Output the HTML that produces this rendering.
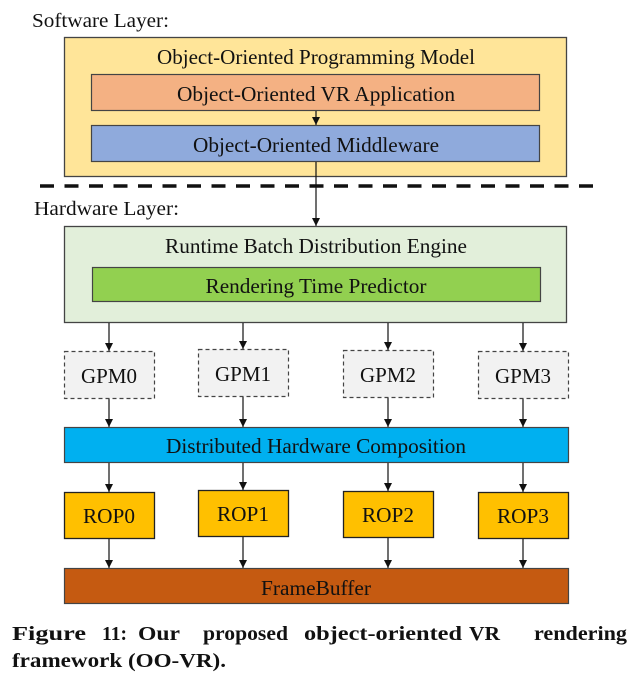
<!DOCTYPE html>
<html><head><meta charset="utf-8"><style>
html,body{margin:0;padding:0;background:#fff;}
svg{display:block;}
text{font-family:"Liberation Serif",serif;fill:#111;}
</style></head><body>
<svg width="633" height="685" viewBox="0 0 633 685" xmlns="http://www.w3.org/2000/svg">
<defs><marker id="a" markerWidth="8" markerHeight="8" refX="8" refY="4" orient="auto" markerUnits="userSpaceOnUse"><path d="M0,0 L8,4 L0,8 z" fill="#111"/></marker></defs>
<text x="32" y="27" font-size="20" textLength="137" lengthAdjust="spacingAndGlyphs">Software Layer:</text>
<rect x="64.5" y="37.5" width="502" height="139" fill="#ffe599" stroke="#444" stroke-width="1.3"/>
<text x="316" y="64" font-size="21" text-anchor="middle" textLength="318" lengthAdjust="spacingAndGlyphs">Object-Oriented Programming Model</text>
<rect x="91.5" y="74.5" width="448" height="36" fill="#f4b183" stroke="#444" stroke-width="1.2"/>
<text x="316" y="101" font-size="21" text-anchor="middle" textLength="278" lengthAdjust="spacingAndGlyphs">Object-Oriented VR Application</text>
<rect x="91.5" y="125.5" width="448" height="36" fill="#8faadc" stroke="#444" stroke-width="1.2"/>
<text x="316" y="152" font-size="21" text-anchor="middle" textLength="246" lengthAdjust="spacingAndGlyphs">Object-Oriented Middleware</text>
<line x1="316" y1="111" x2="316" y2="125" stroke="#111" stroke-width="1.2" marker-end="url(#a)"/>
<line x1="40" y1="186" x2="594" y2="186" stroke="#111" stroke-width="3.5" stroke-dasharray="14 10.5"/>
<line x1="316" y1="162" x2="316" y2="226" stroke="#111" stroke-width="1.2" marker-end="url(#a)"/>
<text x="34" y="215" font-size="20" textLength="145" lengthAdjust="spacingAndGlyphs">Hardware Layer:</text>
<rect x="64.5" y="226.5" width="502" height="96" fill="#e2efda" stroke="#444" stroke-width="1.3"/>
<text x="316" y="253" font-size="21" text-anchor="middle" textLength="302" lengthAdjust="spacingAndGlyphs">Runtime Batch Distribution Engine</text>
<rect x="92.5" y="267.5" width="448" height="34" fill="#92d050" stroke="#444" stroke-width="1.2"/>
<text x="316" y="293" font-size="21" text-anchor="middle" textLength="221" lengthAdjust="spacingAndGlyphs">Rendering Time Predictor</text>
<g stroke="#111" stroke-width="1.2" marker-end="url(#a)">
<line x1="109" y1="323" x2="109" y2="351"/><line x1="243" y1="323" x2="243" y2="349"/><line x1="388" y1="323" x2="388" y2="350"/><line x1="523" y1="323" x2="523" y2="351"/>
<line x1="109" y1="398" x2="109" y2="427"/><line x1="243" y1="396" x2="243" y2="427"/><line x1="388" y1="397" x2="388" y2="427"/><line x1="523" y1="398" x2="523" y2="427"/>
<line x1="109" y1="463" x2="109" y2="492"/><line x1="243" y1="463" x2="243" y2="490"/><line x1="388" y1="463" x2="388" y2="491"/><line x1="523" y1="463" x2="523" y2="492"/>
<line x1="109" y1="538" x2="109" y2="568"/><line x1="243" y1="536" x2="243" y2="568"/><line x1="388" y1="537" x2="388" y2="568"/><line x1="523" y1="538" x2="523" y2="568"/>
</g>
<g fill="#f2f2f2" stroke="#444" stroke-width="1.2" stroke-dasharray="4 3">
<rect x="64.5" y="351.5" width="90" height="47"/><rect x="198.5" y="349.5" width="90" height="47"/><rect x="343.5" y="350.5" width="90" height="47"/><rect x="478.5" y="351.5" width="90" height="47"/>
</g>
<g font-size="21" text-anchor="middle">
<text x="109" y="383" textLength="56" lengthAdjust="spacingAndGlyphs">GPM0</text><text x="243" y="381" textLength="56" lengthAdjust="spacingAndGlyphs">GPM1</text><text x="388" y="382" textLength="56" lengthAdjust="spacingAndGlyphs">GPM2</text><text x="523" y="383" textLength="56" lengthAdjust="spacingAndGlyphs">GPM3</text>
</g>
<rect x="64.5" y="427.5" width="504" height="35" fill="#00b0f0" stroke="#444" stroke-width="1.2"/>
<text x="316" y="453" font-size="21" text-anchor="middle" textLength="300" lengthAdjust="spacingAndGlyphs">Distributed Hardware Composition</text>
<g fill="#ffc000" stroke="#222" stroke-width="1.3">
<rect x="64.5" y="492.5" width="90" height="46"/><rect x="198.5" y="490.5" width="90" height="46"/><rect x="343.5" y="491.5" width="90" height="46"/><rect x="478.5" y="492.5" width="90" height="46"/>
</g>
<g font-size="21" text-anchor="middle">
<text x="109" y="523" textLength="52" lengthAdjust="spacingAndGlyphs">ROP0</text><text x="243" y="521" textLength="52" lengthAdjust="spacingAndGlyphs">ROP1</text><text x="388" y="522" textLength="52" lengthAdjust="spacingAndGlyphs">ROP2</text><text x="523" y="523" textLength="52" lengthAdjust="spacingAndGlyphs">ROP3</text>
</g>
<rect x="64.5" y="568.5" width="504" height="35" fill="#c55a11" stroke="#444" stroke-width="1.2"/>
<text x="316" y="595" font-size="21" text-anchor="middle" textLength="110" lengthAdjust="spacingAndGlyphs">FrameBuffer</text>
<g font-size="20" font-weight="bold">
<text x="12" y="640" textLength="74" lengthAdjust="spacingAndGlyphs">Figure</text>
<text x="102" y="640" textLength="25" lengthAdjust="spacingAndGlyphs">11:</text>
<text x="138" y="640" textLength="42" lengthAdjust="spacingAndGlyphs">Our</text>
<text x="203" y="640" textLength="85" lengthAdjust="spacingAndGlyphs">proposed</text>
<text x="304" y="640" textLength="158" lengthAdjust="spacingAndGlyphs">object-oriented</text>
<text x="469" y="640" textLength="31" lengthAdjust="spacingAndGlyphs">VR</text>
<text x="534" y="640" textLength="93" lengthAdjust="spacingAndGlyphs">rendering</text>
<text x="12" y="667" textLength="214" lengthAdjust="spacingAndGlyphs">framework (OO-VR).</text>
</g>
</svg>
</body></html>
